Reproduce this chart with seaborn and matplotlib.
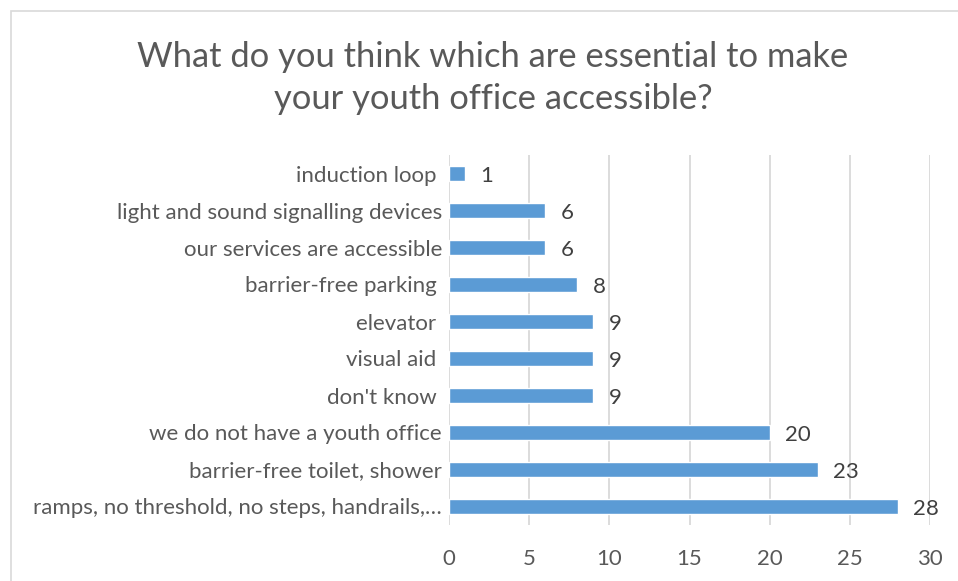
import matplotlib
matplotlib.use("Agg")
import matplotlib.pyplot as plt
import seaborn as sns
import pandas as pd
from matplotlib.patches import Rectangle

# Survey answers (top to bottom) and number of respondents
categories = [
    "induction loop ",
    "light and sound signalling devices",
    "our services are accessible",
    "barrier-free parking ",
    "elevator ",
    "visual aid ",
    "don't know ",
    "we do not have a youth office",
    "barrier-free toilet, shower",
    "ramps, no threshold, no steps, handrails,\u2026",
]
counts = [1, 6, 6, 8, 9, 9, 9, 20, 23, 28]
x_ticks = [0, 5, 10, 15, 20, 25, 30]

df = pd.DataFrame({"answer": categories, "count": counts})

sns.set_theme(style="white")
plt.rcParams["font.family"] = ["Lato", "DejaVu Sans"]

W, H = 958, 581
fig = plt.figure(figsize=(W / 100, H / 100), dpi=100)
fig.patch.set_facecolor("white")

# chart-area frame
fig.patches.append(Rectangle((11 / W, -0.1), 1.2, 1.1 - 11 / H,
                             transform=fig.transFigure, fill=False,
                             edgecolor="#D9D9D9", linewidth=1.2))

left, right, top, bottom = 449 / W, 930 / W, 1 - 155 / H, 1 - 525 / H
ax = fig.add_axes([left, bottom, right - left, top - bottom])

sns.barplot(data=df, y="answer", x="count", orient="h", color="#5B9BD5",
            width=0.4, saturation=1, ax=ax, zorder=3)

ax.set_xlim(0, 30)
ax.set_ylim(len(categories) - 0.5, -0.5)
ax.set_xticks(x_ticks)
ax.set_xticklabels([str(t) for t in x_ticks])
ax.grid(axis="x", color="#D9D9D9", linewidth=1.3, zorder=0)
ax.grid(axis="y", visible=False)
for s in ax.spines.values():
    s.set_visible(False)
ax.tick_params(axis="both", length=0, colors="#595959", labelsize=16)
ax.tick_params(axis="y", pad=5)
ax.tick_params(axis="x", pad=17)
ax.set_xlabel("")
ax.set_ylabel("")

for i, v in enumerate(counts):
    ax.annotate(str(v), (v, i), xytext=(11, -1.5), textcoords="offset points",
                va="center", ha="left", fontsize=16, color="#404040")

fig.text(493 / W, 1 - 78 / H,
         "What do you think which are essential to make\nyour youth office accessible?",
         ha="center", va="center", fontsize=24.8, color="#595959", linespacing=1.36)

fig.savefig("out.png", dpi=100)
